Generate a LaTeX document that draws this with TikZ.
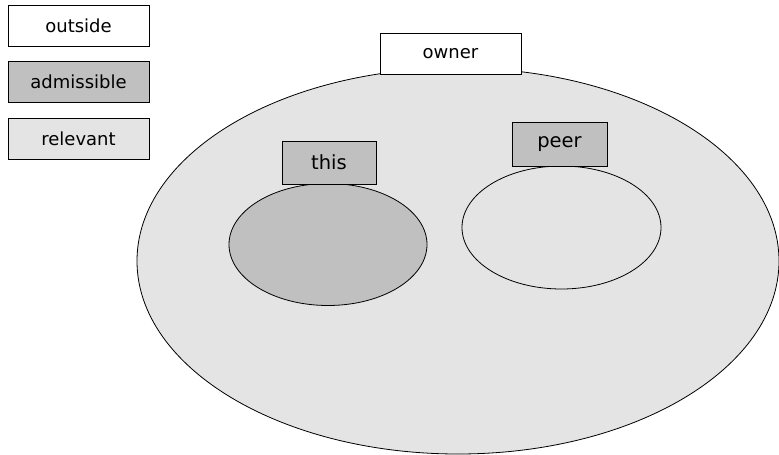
\documentclass[tikz,border=0pt]{standalone}
\usepackage{fontspec}
\setmainfont{DejaVu Sans}
\usetikzlibrary{shapes.geometric}
\definecolor{admiss}{HTML}{C0C0C0}
\definecolor{relev}{HTML}{E4E4E4}
\begin{document}
\begin{tikzpicture}[x=1pt,y=-1pt,
  box/.style={draw=black,line width=0.9pt,rectangle,inner sep=0pt,font=\fontsize{18}{20}\selectfont},
  tag/.style={box,font=\fontsize{19.5}{22}\selectfont},
  region/.style={draw=black,line width=0.8pt,ellipse,inner sep=0pt}]
\useasboundingbox (0,0) rectangle (779,455);
% legend
\node[box,fill=white,minimum width=141pt,minimum height=41pt] (lout) at (78.5,25.5) {outside};
\node[box,fill=admiss,minimum width=141pt,minimum height=41pt] (ladm) at (78.5,82) {admissible};
\node[box,fill=relev,minimum width=141pt,minimum height=41pt] (lrel) at (78.5,138.5) {relevant};
% owner region
\node[region,fill=relev,minimum width=642pt,minimum height=386pt] (ownerset) at (458,261) {};
\node[box,fill=white,minimum width=141pt,minimum height=41pt] (owner) at (450.5,53.5) {owner};
% this region
\node[region,fill=admiss,minimum width=198pt,minimum height=122pt] (thisset) at (328,244.5) {};
\node[tag,fill=admiss,minimum width=94pt,minimum height=43pt] (this) at (329,162.5) {this};
% peer region
\node[region,fill=relev,minimum width=199pt,minimum height=123pt] (peerset) at (561.5,227.5) {};
\node[tag,fill=admiss,minimum width=95pt,minimum height=44pt] (peer) at (559.5,144) {peer};
\end{tikzpicture}
\end{document}
